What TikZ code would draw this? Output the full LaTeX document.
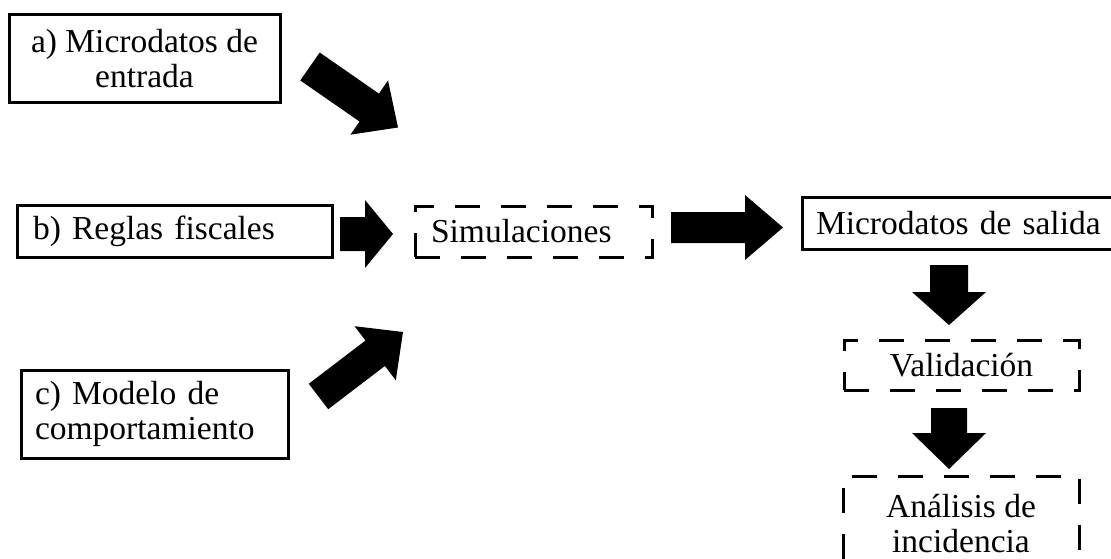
\documentclass[tikz,border=0pt]{standalone}
\usepackage{fontspec}
\setmainfont{Liberation Serif}
\usetikzlibrary{calc}
% block arrow: tail, tip, half shaft width, half head width, head length
\newcommand\blockarr[5]{%
  \coordinate (#1-#2-base) at ($(#2)!#5!(#1)$);
  \fill ($(#1)!#3!90:(#2)$) -- ($(#1-#2-base)!#3!90:(#2)$) -- ($(#1-#2-base)!#4!90:(#2)$)
    -- (#2) -- ($(#1-#2-base)!#4!-90:(#2)$) -- ($(#1-#2-base)!#3!-90:(#2)$)
    -- ($(#1)!#3!-90:(#2)$) -- cycle;
}
\begin{document}
\begin{tikzpicture}[x=1pt,y=-1pt,
  txt/.style={inner ysep=0pt, font=\fontsize{33.5}{35}\selectfont},
  box/.style={txt, draw, line width=3pt},
  dbox/.style={box, dash pattern=on 25pt off 21pt}]
\useasboundingbox (0,0) rectangle (1111,559);
\clip (0,0) rectangle (1111,559);
\node[box, minimum width=271pt, minimum height=88pt, align=center] (a) at (144.5,59) {a) Microdatos de\\entrada};
\node[box, minimum width=315pt, minimum height=52pt, text width=283pt, inner xsep=16pt, align=left] (b) at (174.5,231) {b) Reglas fiscales};
\node[box, minimum width=267pt, minimum height=88pt, text width=239pt, inner xsep=14pt, align=left] (c) at (154.5,414) {c) Modelo de\\comportamiento};
\node[dbox, minimum width=237pt, minimum height=51pt, text width=205pt, inner xsep=16pt, align=left] (sim) at (533.5,231.5) {Simulaciones};
\node[box, minimum width=320pt, minimum height=52pt, text width=292pt, inner xsep=14pt, align=left] (out) at (962,223) {Microdatos de salida};
\node[dbox, minimum width=235pt, minimum height=50pt, align=center] (val) at (961.5,365) {Validación};
\node[dbox, minimum width=236pt, minimum height=114pt] (inc) at (961,533) {};
\node[txt, align=center] (inctext) at (961,524) {Análisis de\\incidencia};
\coordinate (aT) at (310,66.5);   \coordinate (aH) at (398,127.5);
\coordinate (bT) at (340,234);    \coordinate (bH) at (393,234);
\coordinate (cT) at (318.5,396.5);\coordinate (cH) at (403,332);
\coordinate (sT) at (671,227.5);  \coordinate (sH) at (783,227.5);
\coordinate (oT) at (949,265);    \coordinate (oH) at (949,325);
\coordinate (vT) at (949,408);    \coordinate (vH) at (949,469);
\blockarr{aT}{aH}{17pt}{33pt}{35pt}
\blockarr{bT}{bH}{17pt}{34pt}{28pt}
\blockarr{cT}{cH}{16pt}{34pt}{35pt}
\blockarr{sT}{sH}{15.5pt}{32.5pt}{38pt}
\blockarr{oT}{oH}{19pt}{37pt}{33pt}
\blockarr{vT}{vH}{18pt}{37pt}{36pt}
\end{tikzpicture}
\end{document}
